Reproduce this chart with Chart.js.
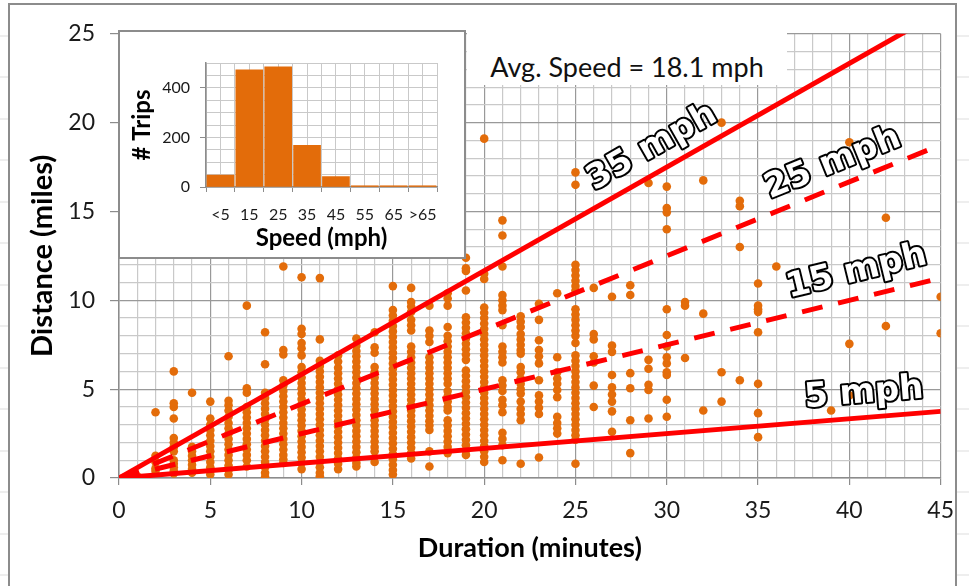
<!DOCTYPE html>
<html>
<head>
<meta charset="utf-8">
<script src="https://cdn.jsdelivr.net/npm/chart.js@4.4.1/dist/chart.umd.min.js"></script>
<style>
  body { margin: 0; width: 969px; height: 586px; overflow: hidden; position: relative;
         background: #fff repeating-linear-gradient(to bottom, transparent 0, transparent 40.5px, #dcdcdc 40.5px, #dcdcdc 41.5px);
         background-position: 0 -5.5px; }
  #frame { position: absolute; left: 8px; top: 3px; width: 945px; height: 600px; border: 2px solid #8c8c8c; background: #fff; overflow: hidden; }
  #main { position: absolute; left: 0; top: 0; }
  #inset { position: absolute; left: 118px; top: 30px; width: 344px; height: 225px; border: 2px solid #8c8c8c; background: #fff; }
  #avg { position: absolute; left: 467px; top: 28px; width: 320px; height: 57px; background: #fff; overflow: hidden;
         font: 27px Lato, sans-serif; color: #111; text-align: center; line-height: 78px; white-space: nowrap; }
</style>
</head>
<body>
<div id="frame"><canvas id="main" width="956" height="581"></canvas></div>
<div id="inset"><canvas id="hist" width="344" height="225"></canvas></div>
<div id="avg"></div>
<script>
// trip durations (minutes) and the distances (miles) logged at each one
const minutes = [1, 2, 3, 4, 5, 6, 7, 8, 9, 10, 11, 12, 13, 14, 15, 16, 17, 18, 19, 20,
  21, 22, 23, 24, 25, 26, 27, 28, 29, 30, 31, 32, 33, 34, 35, 36, 39, 40, 42, 45];
const tripMiles = [
  [0.1],
  [0.4, 0.55, 0.9, 1.25, 3.7],
  [0.25, 0.4, 0.6, 0.8, 1.0, 1.5, 1.75, 2.0, 2.25, 3.35, 4.0, 4.2, 6.0],
  [0.3, 0.5, 0.75, 1.0, 1.25, 1.5, 1.75, 4.8],
  [0.2, 0.4, 0.6, 0.9, 1.2, 1.5, 1.8, 2.1, 2.4, 2.7, 3.0, 3.35, 4.3],
  [0.2, 0.45, 0.7, 1.0, 1.3, 1.6, 1.9, 2.2, 2.5, 2.8, 3.1, 3.45, 3.8, 4.1, 4.35, 6.85],
  [0.65, 1.0, 1.3, 1.6, 1.9, 2.2, 2.5, 2.8, 3.1, 3.4, 3.7, 4.0, 4.8, 5.05, 9.7],
  [0.05, 0.3, 0.6, 0.9, 1.2, 1.5, 1.8, 2.1, 2.4, 2.7, 3.0, 3.3, 3.6, 3.9, 4.2, 4.5, 4.8, 6.4, 8.2],
  [0.85, 1.05, 1.3, 1.6, 1.9, 2.2, 2.5, 2.8, 3.1, 3.4, 3.7, 4.0, 4.3, 4.6, 4.9, 5.2, 5.5, 6.95, 7.2, 11.9],
  [0.5, 0.85, 1.15, 1.45, 1.75, 2.05, 2.35, 2.65, 2.95, 3.25, 3.55, 3.85, 4.15, 4.45, 4.75, 5.05, 5.35,
    5.65, 5.95, 6.25, 6.9, 7.3, 7.6, 8.1, 8.4, 11.3],
  [0.1, 0.3, 0.6, 0.9, 1.2, 1.5, 1.8, 2.1, 2.4, 2.7, 3.0, 3.3, 3.6, 3.9, 4.2, 4.5, 4.8, 5.1, 5.4, 5.7,
    6.0, 6.3, 6.6, 7.8, 11.25],
  [0.5, 0.8, 1.1, 1.4, 1.7, 2.0, 2.3, 2.6, 2.9, 3.2, 3.5, 3.8, 4.1, 4.4, 4.7, 5.0, 5.3, 5.6, 5.9, 6.2, 6.55, 6.9],
  [0.65, 0.85, 1.15, 1.45, 1.75, 2.05, 2.35, 2.65, 2.95, 3.25, 3.55, 3.85, 4.15, 4.45, 4.75, 5.05, 5.35,
    5.65, 5.95, 6.25, 6.55, 6.85, 7.15, 7.45, 7.85],
  [0.9, 1.5, 1.75, 2.05, 2.35, 2.65, 2.95, 3.25, 3.55, 3.85, 4.15, 4.45, 4.75, 5.05, 5.35, 5.65, 5.95,
    6.25, 7.05, 7.35, 8.2],
  [0.2, 0.45, 0.75, 1.05, 1.35, 1.65, 1.95, 2.25, 2.55, 2.85, 3.15, 3.45, 3.75, 4.05, 4.35, 4.65, 4.95,
    5.25, 5.55, 5.85, 6.15, 6.45, 6.75, 7.05, 7.35, 7.65, 7.95, 8.25, 8.55, 8.85, 9.15, 9.45, 10.8],
  [1.1, 1.4, 1.7, 2.0, 2.3, 2.6, 2.9, 3.2, 3.5, 3.8, 4.1, 4.4, 4.7, 5.0, 5.3, 5.6, 5.9, 6.2, 6.5, 6.8,
    7.1, 7.4, 8.3, 8.6, 8.9, 9.35, 9.65, 9.9, 10.7],
  [0.65, 1.5, 2.7, 2.95, 3.2, 3.5, 3.8, 4.1, 4.4, 4.7, 5.0, 5.3, 5.6, 5.9, 6.2, 6.5, 6.8, 7.65, 8.0, 8.3, 9.7],
  [1.4, 1.75, 2.05, 2.35, 2.65, 2.95, 3.25, 3.8, 4.0, 4.3, 4.6, 4.9, 5.3, 5.6, 5.9, 6.2, 6.5, 6.8, 7.1,
    7.4, 7.7, 8.0, 8.5, 9.7, 10.1, 10.4],
  [1.3, 1.55, 1.85, 2.15, 2.45, 2.75, 3.05, 3.35, 3.65, 3.95, 4.25, 4.55, 4.85, 5.15, 5.45, 5.75, 6.05,
    6.65, 6.95, 7.25, 7.55, 7.85, 8.15, 8.45, 8.75, 9.05, 10.55, 11.65, 11.8, 12.4],
  [0.9, 1.2, 1.5, 1.8, 2.1, 2.4, 2.7, 3.0, 3.3, 3.6, 3.9, 4.2, 4.5, 4.8, 5.1, 5.4, 5.7, 6.0, 6.3, 6.6,
    6.9, 7.2, 7.5, 7.8, 8.1, 8.4, 8.7, 9.0, 9.3, 9.6, 11.2, 11.5, 19.1],
  [1.0, 1.85, 2.2, 2.55, 3.7, 4.1, 4.4, 4.9, 5.2, 5.5, 6.5, 6.8, 7.1, 7.4, 8.6, 9.45, 9.7, 10.0, 10.3,
    11.9, 13.65, 14.5],
  [0.8, 3.25, 3.6, 3.9, 4.3, 4.75, 5.0, 5.3, 5.6, 5.95, 6.25, 7.0, 7.2, 7.5, 7.8, 8.1, 8.5, 8.8, 9.1],
  [1.15, 3.6, 3.95, 4.3, 4.65, 5.5, 6.45, 6.85, 7.2, 7.75, 8.9, 9.8],
  [2.5, 2.8, 3.1, 3.45, 4.55, 4.95, 5.3, 5.6, 5.95, 6.8, 10.4],
  [0.8, 2.15, 2.4, 2.7, 3.0, 3.3, 3.6, 3.9, 4.2, 4.5, 4.8, 5.1, 5.4, 5.7, 6.0, 6.3, 6.6, 6.9, 7.6, 8.0,
    8.3, 8.6, 8.9, 9.2, 9.5, 10.55, 10.8, 11.1, 11.4, 11.7, 12.0, 16.5, 17.2],
  [4.0, 5.2, 6.5, 6.85, 7.8, 8.1, 10.7],
  [2.6, 3.75, 4.3, 4.7, 5.1, 5.8, 7.1, 7.45, 10.2],
  [1.4, 3.25, 5.05, 5.9, 10.3, 10.85],
  [3.35, 4.95, 5.25, 6.15, 6.65, 16.6],
  [3.45, 4.4, 5.8, 5.95, 6.45, 6.8, 7.4, 8.05, 9.5, 14.0, 14.95, 15.2, 16.4],
  [6.75, 9.7, 9.9],
  [3.8, 9.25, 16.75],
  [4.3, 5.95, 20.0],
  [5.5, 13.0, 15.3, 15.6],
  [2.3, 3.65, 5.3, 8.2, 9.35, 9.5, 9.7, 10.95],
  [11.9],
  [3.8],
  [4.65, 7.55, 18.9],
  [8.55, 14.65],
  [8.15, 10.2]
];

// constant-speed reference lines (mph); 25 and 15 are drawn dashed
const speedLines = [35, 25, 15, 5];
const dashedSpeeds = [25, 15];
const avgSpeed = 18.1;

// speed histogram
const speedBins = ['<5', '15', '25', '35', '45', '55', '65', '>65'];
const tripCounts = [48, 472, 485, 168, 42, 5, 5, 5];

const maxMinutes = 45;
const orange = '#e36c0a';
const red = '#ff0000';
const majorGrid = '#999999';
const minorGrid = '#c9c9c9';
const axisGray = '#8c8c8c';

Chart.defaults.font.family = 'Lato, sans-serif';
Chart.defaults.color = '#1a1a1a';

document.getElementById('avg').textContent = 'Avg. Speed = ' + avgSpeed + ' mph';

const points = minutes.flatMap((m, i) => tripMiles[i].map(d => ({ x: m, y: d })));

const lineSets = speedLines.map(s => ({
  type: 'line',
  data: [{ x: 0, y: 0 }, { x: maxMinutes, y: s * maxMinutes / 60 }],
  borderColor: red,
  borderWidth: 5,
  borderDash: dashedSpeeds.includes(s) ? [21, 16] : [],
  borderCapStyle: 'butt',
  pointRadius: 0,
  order: 0
}));

// where each speed label sits, in minutes / miles
const labelAt = { 35: [29.2, 18.6], 25: [39.1, 17.7], 15: [40.4, 11.6], 5: [40.8, 4.75] };

const speedLabels = {
  id: 'speedLabels',
  afterDatasetsDraw(chart) {
    const { ctx, scales: { x, y } } = chart;
    ctx.save();
    ctx.font = 'bold 34px "DejaVu Sans"';
    ctx.textAlign = 'center';
    ctx.textBaseline = 'middle';
    ctx.lineJoin = 'round';
    ctx.lineWidth = 4;
    ctx.strokeStyle = '#000';
    ctx.fillStyle = '#fff';
    speedLines.forEach(s => {
      const x0 = x.getPixelForValue(0), y0 = y.getPixelForValue(0);
      const x1 = x.getPixelForValue(maxMinutes), y1 = y.getPixelForValue(s * maxMinutes / 60);
      const ang = Math.atan2(y1 - y0, x1 - x0);
      const [lm, ld] = labelAt[s];
      ctx.save();
      ctx.translate(x.getPixelForValue(lm), y.getPixelForValue(ld));
      ctx.rotate(ang);
      ctx.strokeText(s + ' mph', 0, 0);
      ctx.fillText(s + ' mph', 0, 0);
      ctx.restore();
    });
    ctx.restore();
  }
};

const isMajor = v => v % 5 === 0;

new Chart(document.getElementById('main'), {
  type: 'scatter',
  data: {
    datasets: [
      ...lineSets,
      {
        type: 'scatter',
        data: points,
        backgroundColor: orange,
        borderWidth: 0,
        pointRadius: 4.3,
        order: 1
      }
    ]
  },
  options: {
    responsive: false,
    animation: false,
    layout: { padding: { top: 28, right: 16, left: 0, bottom: 0 } },
    plugins: { legend: { display: false }, tooltip: { enabled: false } },
    scales: {
      x: {
        type: 'linear',
        min: 0,
        max: maxMinutes,
        afterFit: s => { s.height = 108; },
        ticks: {
          stepSize: 1,
          autoSkip: false,
          maxRotation: 0,
          padding: 12,
          font: { size: 23 },
          callback: v => isMajor(v) ? v : ''
        },
        grid: {
          lineWidth: 1.2,
          tickLength: 7,
          color: c => isMajor(c.tick.value) ? majorGrid : minorGrid,
          tickColor: c => isMajor(c.tick.value) ? axisGray : 'transparent'
        },
        border: { color: axisGray, width: 1.5 },
        title: {
          display: true,
          text: 'Duration (minutes)',
          font: { size: 27, weight: 'bold' },
          color: '#000',
          padding: { top: 0, bottom: 22 }
        }
      },
      y: {
        min: 0,
        max: 25,
        afterFit: s => { s.width = 109; },
        ticks: {
          stepSize: 1,
          autoSkip: false,
          padding: 15,
          font: { size: 23 },
          callback: v => isMajor(v) ? v : ''
        },
        grid: {
          lineWidth: 1.2,
          tickLength: 9,
          color: c => isMajor(c.tick.value) ? majorGrid : minorGrid,
          tickColor: c => isMajor(c.tick.value) ? axisGray : 'transparent'
        },
        border: { color: axisGray, width: 1.5 },
        title: {
          display: true,
          text: 'Distance (miles)',
          font: { size: 29, weight: 'bold' },
          color: '#000',
          padding: { top: 15, bottom: 0 }
        }
      }
    }
  },
  plugins: [speedLabels]
});

// inset histogram: bins sit between whole-number boundaries on a linear axis
const binLabel = v => (v % 1 === 0.5) ? speedBins[Math.floor(v)] : '';

new Chart(document.getElementById('hist'), {
  type: 'bar',
  data: {
    datasets: [{
      data: tripCounts.map((c, i) => ({ x: i + 0.5, y: c })),
      backgroundColor: orange,
      borderWidth: 0,
      barThickness: 27
    }]
  },
  options: {
    responsive: false,
    animation: false,
    layout: { padding: { top: 31, right: 27, left: 0, bottom: 0 } },
    plugins: { legend: { display: false }, tooltip: { enabled: false } },
    scales: {
      x: {
        type: 'linear',
        min: 0,
        max: speedBins.length,
        offset: false,
        afterFit: s => { s.height = 70; },
        ticks: { stepSize: 0.5, autoSkip: false, maxRotation: 0, padding: 13, font: { size: 16 }, callback: binLabel },
        grid: {
          offset: false,
          color: minorGrid,
          tickLength: 5,
          tickColor: c => c.tick.value % 1 === 0 ? axisGray : 'transparent'
        },
        border: { color: axisGray, width: 1.5 },
        title: {
          display: true,
          text: 'Speed (mph)',
          font: { size: 24, weight: 'bold' },
          color: '#000',
          padding: { top: 0, bottom: 4 }
        }
      },
      y: {
        min: 0,
        max: 500,
        afterFit: s => { s.width = 86; },
        ticks: { stepSize: 50, autoSkip: false, padding: 10, font: { size: 16 }, callback: v => v % 200 === 0 ? v : '' },
        grid: {
          color: minorGrid,
          tickLength: 6,
          tickColor: c => c.tick.value % 200 === 0 ? axisGray : 'transparent'
        },
        border: { color: axisGray, width: 1.5 },
        title: {
          display: true,
          text: '# Trips',
          font: { size: 24, weight: 'bold' },
          color: '#000',
          padding: { top: 8, bottom: 0 }
        }
      }
    }
  }
});
</script>
</body>
</html>
